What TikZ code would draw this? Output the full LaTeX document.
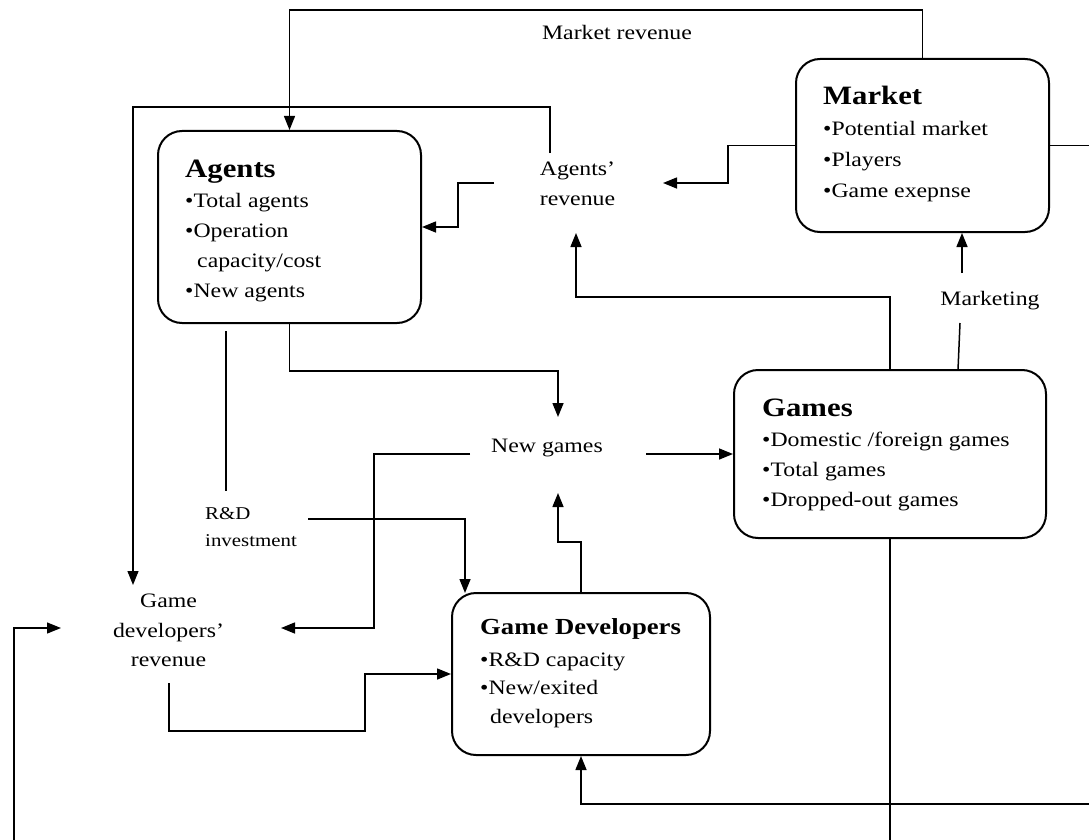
\documentclass[tikz,border=0pt]{standalone}
\usepackage{fontspec}
\setmainfont{Liberation Serif}[FakeStretch=1.16]
\usetikzlibrary{arrows.meta,calc}
\begin{document}
\begin{tikzpicture}[x=1pt,y=-1pt,
  stockbox/.style={draw,line width=2pt,rounded corners=24pt,inner sep=0pt},
  boxtext/.style={anchor=west,inner sep=0pt,align=left,font=\fontsize{20.5}{30}\selectfont},
  note/.style={inner sep=0pt,align=center,font=\fontsize{20.5}{29.5}\selectfont},
  flow/.style={line width=1.5pt,-{Triangle[length=14pt,width=11pt]}},
  thinflow/.style={line width=1.2pt,-{Triangle[length=14pt,width=11pt]}},
  link/.style={line width=1.5pt},
  thinlink/.style={line width=1.2pt}
]
\useasboundingbox (0,0) rectangle (1089,840);
\clip (0,0) rectangle (1089,840);

% stock boxes
\node[stockbox,minimum width=263pt,minimum height=192pt] (agents) at (289.5,227) {};
\node[stockbox,minimum width=253pt,minimum height=173pt] (market) at (922.5,145.5) {};
\node[stockbox,minimum width=312pt,minimum height=168pt] (games)  at (890,454) {};
\node[stockbox,minimum width=258pt,minimum height=162pt] (gd)     at (581,674) {};

% box contents
\node[boxtext] (agentstext) at (185,230.5)
  {{\fontsize{26.5}{30}\selectfont\bfseries Agents}\\•Total agents\\•Operation\\\hspace*{12pt}capacity/cost\\•New agents};
\node[boxtext,font=\fontsize{20.5}{31}\selectfont] (markettext) at (823,143.5)
  {{\fontsize{26.5}{31}\selectfont\bfseries Market}\\•Potential market\\•Players\\•Game exepnse};
\node[boxtext] (gamestext) at (762,455)
  {{\fontsize{26.5}{30}\selectfont\bfseries Games}\\•Domestic /foreign games\\•Total games\\•Dropped-out games};
\node[boxtext,font=\fontsize{20.5}{28.5}\selectfont] (gdtext) at (480,673)
  {{\fontsize{23}{28.5}\selectfont\bfseries Game Developers}\\[3pt]•R\&D capacity\\•New/exited\\\hspace*{10pt}developers};

% free-standing variables
\node[note,anchor=base] (mrev) at (617,40) {Market revenue};
\node[note] (arev) at (577.5,184) {Agents'\\revenue};
\node[note,anchor=base] (newg) at (547,452) {New games};
\node[note,anchor=base] (mkt) at (990,305) {Marketing};
\node[note] (gdrev) at (168.5,630.5) {Game\\developers'\\revenue};
\node[inner sep=0pt,align=left,anchor=west,font=\fontsize{18}{27}\selectfont] (rdinv) at (205,527) {R\&D\\investment};

% connector ends next to the free-standing variables
\coordinate (arN) at (550,153);
\coordinate (arW) at (494,183);
\coordinate (arE) at (663,183);
\coordinate (arS) at (576,233);
\coordinate (ngN) at (558,417);
\coordinate (ngS) at (558,493);
\coordinate (ngW) at (470,454);
\coordinate (ngE) at (646,454);
\coordinate (gdrN) at (133,585);
\coordinate (gdrE) at (281,628);
\coordinate (gdrW) at (61,628);
\coordinate (gdrS) at (169,683);
\coordinate (rdN) at (226,491);
\coordinate (agR) at (226,331);
\coordinate (rdE) at (308,519);
\coordinate (gdNW) at (465,593);
\coordinate (mkG) at (958,370);
\coordinate (mkS) at (960,323);
\coordinate (mkN) at (962,273);

% connectors
\draw[thinflow] (market.north) -- ++(0,-48) -| (agents.north);
\draw[thinflow] (arN) -- (550,107) -| (gdrN);
\draw[flow] (arW) -- ++(-36,0) |- (agents.east);
\draw[flow] (market.west) -- ++(-67,0) |- (arE);
\draw[flow] (games.north) -- ++(0,-72) -| (arS);
\draw[link] (mkG) -- (mkS);
\draw[flow] (mkN) -- (mkN |- market.south);
\draw[flow] (agents.south) -- ++(0,47) -| (ngN);
\draw[flow] (ngE) -- (games.west);
\draw[flow] (ngW) -- (374,454) |- (gdrE);
\draw[flow] (gd.north) -- ++(0,-50) -| (ngS);
\draw[thinlink] (agR) -- (rdN);
\draw[flow] (rdE) -| (gdNW);
\draw[flow] (gdrS) |- (365,731) |- (gd.west);
\draw[flow] (market.east) -- ++(61,0) |- ($(gd.south)+(0,48)$) -- (gd.south);
\draw[thinflow] (games.south) -- ++(0,322) -| (14,628) -- (gdrW);
\end{tikzpicture}
\end{document}
